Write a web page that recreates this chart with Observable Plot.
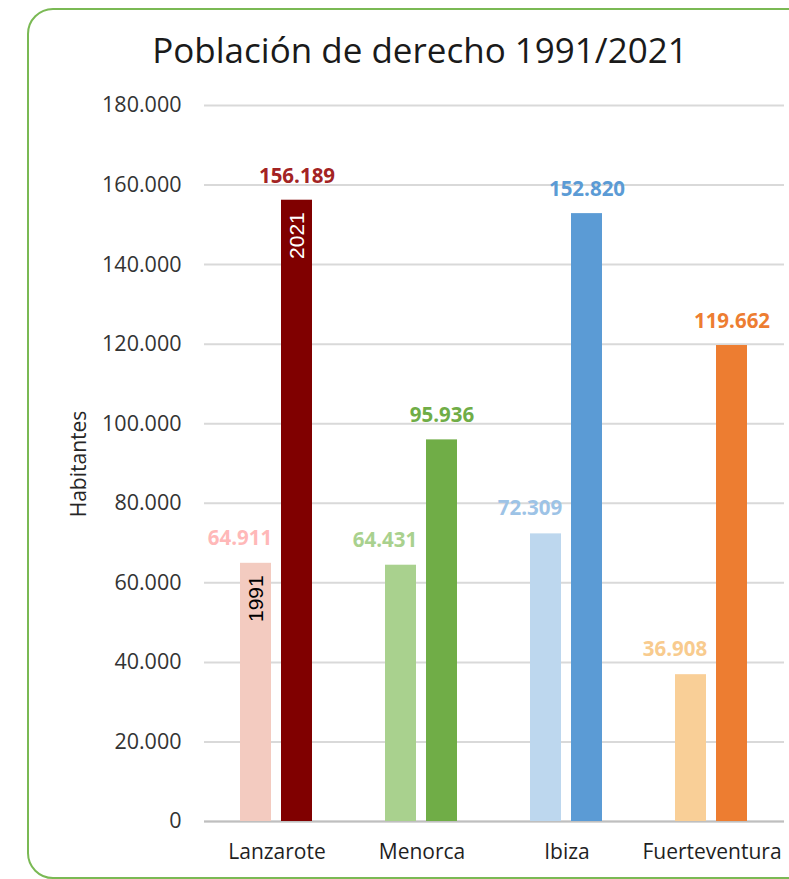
<!DOCTYPE html>
<html>
<head>
<meta charset="utf-8">
<script src="https://cdn.jsdelivr.net/npm/d3@7"></script>
<script src="https://cdn.jsdelivr.net/npm/@observablehq/plot@0.6"></script>
<style>
  html, body { margin: 0; padding: 0; background: #fff; }
  #wrap { position: relative; width: 789px; height: 879px; overflow: hidden; font-family: "Open Sans", sans-serif; }
  #frame { position: absolute; left: 27px; top: 8px; width: 840px; height: 867px; border: 2px solid #7ab954; border-radius: 26px; box-sizing: content-box; }
  #title { position: absolute; left: 0; width: 840px; top: 28px; text-align: center; font-size: 35px; color: #1a1a1a; line-height: 44px; }
  #ylab { position: absolute; left: 78px; top: 464px; transform: translate(-50%, -50%) rotate(-90deg); font-size: 21px; color: #262626; white-space: nowrap; }
  #chart { position: absolute; left: 0; top: 0; }
</style>
</head>
<body>
<div id="wrap">
  <div id="frame"></div>
  <div id="chart"></div>
  <div id="title">Población de derecho 1991/2021</div>
  <div id="ylab">Habitantes</div>
</div>
<script>
// ---- data ----
const islands = ["Lanzarote", "Menorca", "Ibiza", "Fuerteventura"];
const years = ["1991", "2021"];
const pop1991 = [64911, 64431, 72309, 36908];
const pop2021 = [156189, 95936, 152820, 119662];
const yTicks = [0, 20000, 40000, 60000, 80000, 100000, 120000, 140000, 160000, 180000];

// ---- palette ----
const barColors1991 = ["#f3cbc0", "#a9d18e", "#bdd7ee", "#f9cf97"];
const barColors2021 = ["#800000", "#70ad47", "#5b9bd5", "#ed7d31"];
const labelColors1991 = ["#ffb8b8", "#a9d18e", "#9dc3e6", "#f8cb8e"];
const labelColors2021 = ["#a32323", "#70ad47", "#5b9bd5", "#ed7d31"];

const rows = [];
islands.forEach((island, i) => {
  rows.push({island, year: "1991", value: pop1991[i], bar: barColors1991[i], lab: labelColors1991[i]});
  rows.push({island, year: "2021", value: pop2021[i], bar: barColors2021[i], lab: labelColors2021[i]});
});

const loc = d3.formatLocale({decimal: ",", thousands: ".", grouping: [3], currency: ["", ""]});
const fmt = loc.format(",d");

const rows91 = rows.filter(d => d.year === "1991");
const rows21 = rows.filter(d => d.year === "2021");
const yearTags91 = rows91.filter(d => d.island === islands[0]);
const yearTags21 = rows21.filter(d => d.island === islands[0]);

const chart = Plot.plot({
  width: 789,
  height: 879,
  marginLeft: 203,
  marginRight: 4,
  marginTop: 105,
  marginBottom: 58,
  style: {fontFamily: "'Open Sans', sans-serif", background: "transparent", color: "#333"},
  fx: {domain: islands, padding: 0, label: null},
  x: {domain: years, paddingInner: 0.238, paddingOuter: 0.851, axis: null},
  y: {domain: [0, 180000], label: null},
  color: {type: "identity"},
  marks: [
    Plot.gridY(yTicks, {stroke: "#d9d9d9", strokeOpacity: 1, strokeWidth: 2}),
    Plot.axisY(yTicks, {tickSize: 0, tickPadding: 23, tickFormat: fmt, fontSize: 21.5, fill: "#333", label: null}),
    Plot.axisFx({anchor: "bottom", tickSize: 0, tickPadding: 23, label: null, fontSize: 21, fill: "#1f1f1f"}),
    Plot.ruleY([0], {stroke: "#bfbfbf", strokeWidth: 2}),
    Plot.barY(rows, {fx: "island", x: "year", y: "value", fill: "bar"}),
    Plot.text(rows91, {fx: "island", x: "year", y: "value", text: d => fmt(d.value), fill: "lab",
      dx: -16, dy: -25, fontSize: 20.5, fontWeight: "bold"}),
    Plot.text(rows21, {fx: "island", x: "year", y: "value", text: d => fmt(d.value), fill: "lab",
      dx: 0, dy: -24, fontSize: 20.5, fontWeight: "bold"}),
    Plot.text(yearTags91, {fx: "island", x: "year", y: "value", text: "year", rotate: -90, textAnchor: "end",
      dy: 12, fill: "#000", fontSize: 21, fontFamily: "'Liberation Sans', Arial, sans-serif"}),
    Plot.text(yearTags21, {fx: "island", x: "year", y: "value", text: "year", rotate: -90, textAnchor: "end",
      dy: 12, fill: "#fff", fontSize: 21, fontFamily: "'Liberation Sans', Arial, sans-serif"})
  ]
});
document.getElementById("chart").appendChild(chart);
</script>
</body>
</html>
